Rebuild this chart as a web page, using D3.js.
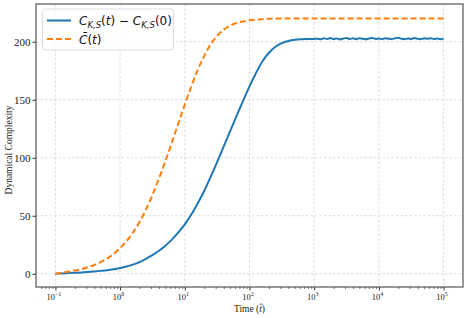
<!DOCTYPE html>
<html>
<head>
<meta charset="utf-8">
<script src="https://cdn.jsdelivr.net/npm/d3@7"></script>
<style>
  body { margin: 0; background: #fff; }
  svg { display: block; }
</style>
</head>
<body>
<div id="chart"></div>
<script>
// time points (t) for the rising part, one per 0.1 decade
var riseTimes = [0.1, 0.126, 0.158, 0.2, 0.251, 0.316, 0.398, 0.501, 0.631, 0.794,
  1, 1.26, 1.58, 2, 2.51, 3.16, 3.98, 5.01, 6.31, 7.94,
  10, 12.6, 15.8, 20, 25.1, 31.6, 39.8, 50.1, 63.1, 79.4,
  100, 126, 158, 200, 251, 316, 398, 501, 631, 794, 1000];

var orangeRise = [0, 0.9, 1.8, 2.8, 4.0, 5.6, 7.6, 10.1, 13.2, 17.1,
  22.2, 28.2, 35.6, 44.6, 55.4, 67.9, 81.9, 97.1, 113.1, 129.5,
  145.8, 161.4, 175.6, 187.8, 197.8, 205.1, 210.4, 213.9, 216.1, 217.5,
  218.4, 219, 219.4, 219.7, 219.85, 219.95, 220, 220, 220, 220.1, 220];

var blueRise = [0, 0.3, 0.6, 0.9, 1.2, 1.6, 2.0, 2.5, 3.1, 3.95,
  5, 6.2, 7.9, 10.1, 12.8, 16, 19.8, 24.2, 29.4, 35.6,
  42.6, 51, 60.6, 71.5, 83.5, 96.3, 109.5, 122.8, 136, 149,
  161.5, 173, 183, 190.5, 195.6, 198.8, 200.6, 201.6, 202.1, 202.3, 202.4];

// plateau, one point per 0.05 decade from 10^3.05 to 10^5
var plateauTimes = [1122, 1259, 1413, 1585, 1778, 1995, 2239, 2512, 2818, 3162,
  3548, 3981, 4467, 5012, 5623, 6310, 7079, 7943, 8913, 10000,
  11220, 12589, 14125, 15849, 17783, 19953, 22387, 25119, 28184, 31623,
  35481, 39811, 44668, 50119, 56234, 63096, 70795, 79433, 89125, 100000];

var bluePlateau = [202.6, 202.1, 202.9, 202.4, 203.1, 202.3, 202.8, 202.0, 202.7, 203.2,
  202.4, 202.9, 202.2, 203.0, 202.5, 202.1, 202.8, 203.3, 202.4, 202.7,
  202.2, 203.0, 202.6, 202.3, 202.9, 203.4, 202.5, 202.1, 202.8, 202.4,
  203.1, 202.6, 202.2, 202.9, 202.5, 203.0, 202.3, 202.7, 202.2, 202.6];

var orangePlateau = [220, 220.1, 220, 219.9, 220, 220.1, 220, 220, 219.9, 220,
  220.1, 220, 220, 220, 219.9, 220, 220.1, 220, 220, 220,
  219.9, 220, 220, 220.1, 220, 220, 219.9, 220, 220, 220.1,
  220, 220, 219.9, 220, 220, 220.1, 220, 220, 219.9, 220];

var xMajor = [-1, 0, 1, 2, 3, 4, 5];
var yTicks = [0, 50, 100, 150, 200];

var times = riseTimes.concat(plateauTimes);
var blue = times.map((t, i) => ({ t: t, v: i < blueRise.length ? blueRise[i] : bluePlateau[i - blueRise.length] }));
var orange = times.map((t, i) => ({ t: t, v: i < orangeRise.length ? orangeRise[i] : orangePlateau[i - orangeRise.length] }));

const width = 468;
const height = 318;
const margin = { top: 4, bottom: 31, left: 36, right: 5 };

const svg = d3.select('#chart')
  .append('svg')
  .attr('width', width)
  .attr('height', height);

const x = d3.scaleLog()
  .domain([Math.pow(10, -1.3), Math.pow(10, 5.3)])
  .range([margin.left, width - margin.right]);

const y = d3.scaleLinear()
  .domain([-11.4, 232.5])
  .range([height - margin.bottom, margin.top]);

var majorVals = xMajor.map(e => Math.pow(10, e));
var minorVals = [];
for (var e = -2; e <= 5; e++) {
  for (var k = 2; k <= 9; k++) {
    var v = k * Math.pow(10, e);
    if (v > x.domain()[0] && v < x.domain()[1]) minorVals.push(v);
  }
}

// grid
var grid = svg.append('g')
  .attr('stroke', '#d4d4d4')
  .attr('stroke-width', 0.8)
  .attr('stroke-dasharray', '2.5,2');
grid.selectAll('line.gx').data(majorVals).join('line')
  .attr('x1', d => x(d)).attr('x2', d => x(d))
  .attr('y1', margin.top).attr('y2', height - margin.bottom);
grid.selectAll('line.gy').data(yTicks).join('line')
  .attr('class', 'gy')
  .attr('x1', margin.left).attr('x2', width - margin.right)
  .attr('y1', d => y(d)).attr('y2', d => y(d));

// lines
var line = d3.line().curve(d3.curveMonotoneX).x(d => x(d.t)).y(d => y(d.v));
svg.append('path').datum(blue)
  .attr('fill', 'none').attr('stroke', '#1f77b4').attr('stroke-width', 2)
  .attr('d', line);
svg.append('path').datum(orange)
  .attr('fill', 'none').attr('stroke', '#ff7f0e').attr('stroke-width', 2)
  .attr('stroke-dasharray', '6,3')
  .attr('d', line);

// axes
function xAxis(g) {
  g.attr('transform', `translate(0,${height - margin.bottom})`)
    .call(d3.axisBottom(x).tickValues(majorVals).tickSize(3.5).tickFormat(() => ''))
    .call(g => g.select('.domain').remove());
  g.selectAll('.tick line').attr('stroke', '#333');
  g.selectAll('.tick').each(function (d, i) {
    var t = d3.select(this).append('text')
      .attr('y', 13).attr('x', -2)
      .attr('fill', '#222')
      .attr('font-family', 'Liberation Serif, serif')
      .attr('font-size', 8.5)
      .attr('text-anchor', 'middle');
    t.append('tspan').text('10');
    t.append('tspan').attr('dy', -4).attr('font-size', 6)
      .text(String(xMajor[i]).replace('-', '\u2212'));
  });
}
function xMinor(g) {
  g.attr('transform', `translate(0,${height - margin.bottom})`)
    .call(d3.axisBottom(x).tickValues(minorVals).tickSize(2).tickFormat(() => ''))
    .call(g => g.select('.domain').remove());
  g.selectAll('.tick line').attr('stroke', '#333').attr('stroke-width', 0.7);
}
function yAxis(g) {
  g.attr('transform', `translate(${margin.left},0)`)
    .call(d3.axisLeft(y).tickValues(yTicks).tickSize(3.5).tickPadding(2))
    .call(g => g.select('.domain').remove())
    .attr('font-family', 'Liberation Serif, serif')
    .attr('font-size', 11);
  g.selectAll('.tick line').attr('stroke', '#333');
  g.selectAll('.tick text').attr('fill', '#222');
}
svg.append('g').call(xMinor);
svg.append('g').call(xAxis);
svg.append('g').call(yAxis);

// frame
svg.append('rect')
  .attr('x', margin.left).attr('y', margin.top)
  .attr('width', width - margin.left - margin.right)
  .attr('height', height - margin.top - margin.bottom)
  .attr('fill', 'none').attr('stroke', '#444').attr('stroke-width', 1.1);

// labels
svg.append('text')
  .attr('x', (margin.left + width - margin.right) / 2)
  .attr('y', 312)
  .attr('text-anchor', 'middle')
  .attr('font-family', 'Liberation Serif, serif')
  .attr('font-size', 9.5)
  .attr('fill', '#222')
  .html('Time (<tspan font-style="italic">t\u0302</tspan>)');

svg.append('text')
  .attr('transform', 'translate(12,150) rotate(-90)')
  .attr('text-anchor', 'middle')
  .attr('font-family', 'Liberation Serif, serif')
  .attr('font-size', 9.5)
  .attr('fill', '#222')
  .text('Dynamical Complexity');

// legend
var lg = svg.append('g');
lg.append('rect')
  .attr('x', 42.5).attr('y', 9).attr('width', 131).attr('height', 41)
  .attr('rx', 3)
  .attr('fill', 'white').attr('fill-opacity', 0.8)
  .attr('stroke', '#d6d6d6').attr('stroke-width', 0.8);
lg.append('line')
  .attr('x1', 47).attr('x2', 71).attr('y1', 20.5).attr('y2', 20.5)
  .attr('stroke', '#1f77b4').attr('stroke-width', 2);
lg.append('line')
  .attr('x1', 47).attr('x2', 71).attr('y1', 39).attr('y2', 39)
  .attr('stroke', '#ff7f0e').attr('stroke-width', 2)
  .attr('stroke-dasharray', '6,3');

var t1 = lg.append('text')
  .attr('x', 79).attr('y', 25)
  .attr('font-family', 'DejaVu Sans, sans-serif')
  .attr('font-size', 12)
  .attr('fill', '#111');
t1.append('tspan').attr('font-style', 'italic').text('C');
t1.append('tspan').attr('font-style', 'italic').attr('font-size', 8.5).attr('dy', 2.5).text('K,S');
t1.append('tspan').attr('dy', -2.5).text('(');
t1.append('tspan').attr('font-style', 'italic').text('t');
t1.append('tspan').text(') \u2212 ');
t1.append('tspan').attr('font-style', 'italic').text('C');
t1.append('tspan').attr('font-style', 'italic').attr('font-size', 8.5).attr('dy', 2.5).text('K,S');
t1.append('tspan').attr('dy', -2.5).text('(0)');

var t2 = lg.append('text')
  .attr('x', 79).attr('y', 43.5)
  .attr('font-family', 'DejaVu Sans, sans-serif')
  .attr('font-size', 12)
  .attr('fill', '#111');
t2.append('tspan').attr('font-style', 'italic').text('C\u0304');
t2.append('tspan').text('(');
t2.append('tspan').attr('font-style', 'italic').text('t');
t2.append('tspan').text(')');
</script>
</body>
</html>
